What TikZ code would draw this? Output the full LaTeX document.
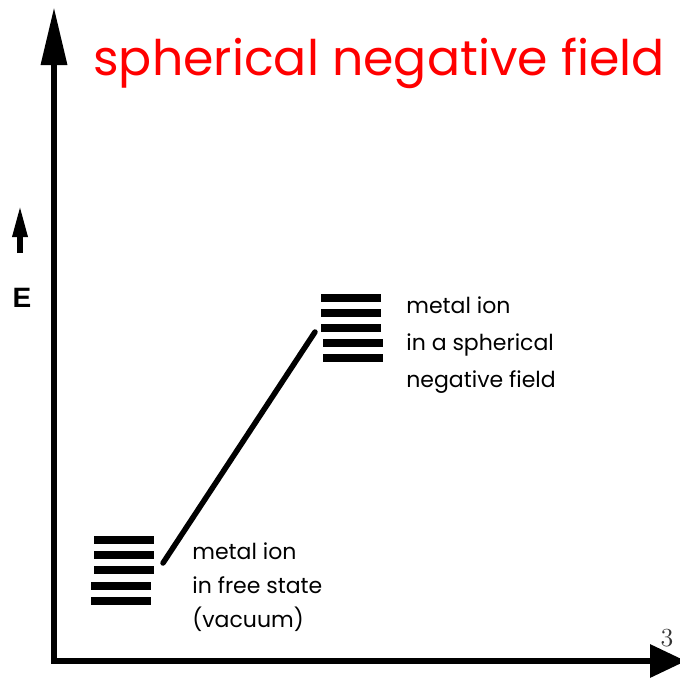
\documentclass[tikz,border=0pt]{standalone}
\usepackage{fontspec}
\newfontfamily\handfont{Poppins}
\newfontfamily\boldsans{Liberation Sans}
\usepackage{tikz}
\usetikzlibrary{arrows.meta}

\begin{document}
\begin{tikzpicture}[
    x=0.5pt, y=-0.5pt,
    axis/.style={line width=3.2pt},
    level/.style={line width=4pt},
    link/.style={line width=2.75pt, line cap=round},
    tag/.style={font=\handfont\fontsize{11}{18.5}\selectfont, align=left,
      anchor=north west, inner sep=0pt},
    headline/.style={font=\handfont\fontsize{24.5}{30}\selectfont, text=red,
      anchor=base west, inner sep=0pt}
  ]
    \useasboundingbox (0,0) rectangle (680,677);
    \clip (0,0) rectangle (680,677);
    % axes
    \coordinate (origin) at (54,661);
    \coordinate (ytop) at (54,7);
    \coordinate (xend) at (686,661);
    \draw[axis, {Triangle[length=29pt,width=12.5pt]}-{Triangle[length=18pt,width=16pt]}]
      (ytop) -- (origin) -- (xend);
    % energy arrow
    \coordinate (elow) at (20,253);
    \coordinate (eup) at (20,205);
    \draw[line width=3pt, -{Triangle[length=16pt,width=7pt]}] (elow) -- (eup);
    \node[font=\boldsans\bfseries\fontsize{14}{14}\selectfont] (E) at (22,298) {E};
    % level stacks
    \foreach \y/\x in {540/94,555/94,570/94,586/91,601/91}
      \draw[level] (\x,\y) -- ++(60,0);
    \foreach \y/\x in {298/321,313/321,328/321,343/323,358/323}
      \draw[level] (\x,\y) -- ++(60,0);
    \coordinate (free) at (163,563);
    \coordinate (sphere) at (315,332);
    \draw[link] (free) -- (sphere);
    % labels
    \node[tag] (spheretxt) at (406,296) {metal ion\\in a spherical\\negative field};
    \node[tag, font=\handfont\fontsize{11}{17}\selectfont] (freetxt) at (192,542)
      {metal ion\\in free state\\(vacuum)};
    \node[headline] (title) at (93,75) {spherical negative field};
    \node[font=\fontsize{13}{13}\selectfont, text=black!80] (three) at (667,638) {3};
  \end{tikzpicture}
\end{document}
